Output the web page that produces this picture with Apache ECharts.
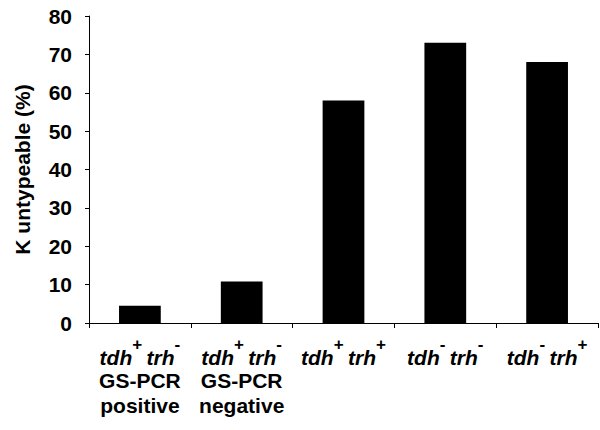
<!DOCTYPE html>
<html>
<head>
<meta charset="utf-8">
<script src="https://cdn.jsdelivr.net/npm/echarts@6/dist/echarts.min.js"></script>
<style>
  html, body { margin: 0; padding: 0; background: #fff; }
  #chart { width: 600px; height: 430px; }
</style>
</head>
<body>
<div id="chart"></div>
<script>
// genotype pieces for each category: [tdh sign, trh sign]
var tdhSigns = ['+', '+', '+', '-', '-'];
var trhSigns = ['-', '-', '+', '-', '+'];
var extraLine1 = ['GS-PCR', 'GS-PCR', '', '', ''];
var extraLine2 = ['positive', 'negative', '', '', ''];
var untypeable = [4.5, 10.8, 58, 73, 68];
var yTicks = [0, 10, 20, 30, 40, 50, 60, 70, 80];

(function() {
  var font = '"Liberation Sans", Arial, sans-serif';
  var categories = tdhSigns.map(function(s, i) {
    var txt = '{i|tdh}{s|' + s + '}{sp| }{i|trh}{s|' + trhSigns[i] + '}';
    if (extraLine1[i]) txt += '\n{b|' + extraLine1[i] + '}';
    if (extraLine2[i]) txt += '\n{b|' + extraLine2[i] + '}';
    return txt;
  });

  var chart = echarts.init(document.getElementById('chart'), null, { renderer: 'svg' });
  chart.setOption({
    animation: false,
    backgroundColor: '#fff',
    grid: { left: 89, right: 2, top: 16, bottom: 107 },
    xAxis: {
      type: 'category',
      data: categories,
      axisLine: { lineStyle: { color: '#000', width: 1 } },
      axisTick: { show: true, length: 5, lineStyle: { color: '#000' } },
      axisLabel: {
        interval: 0,
        margin: 9,
        color: '#000',
        fontFamily: font,
        fontWeight: 'bold',
        fontSize: 21,
        formatter: function(v) { return v; },
        rich: {
          i: { fontFamily: font, fontWeight: 'bold', fontStyle: 'italic', fontSize: 21, lineHeight: 24,
               verticalAlign: 'bottom', color: '#000' },
          sp: { fontFamily: font, fontSize: 16, lineHeight: 36, verticalAlign: 'bottom', color: '#000' },
          s: { fontFamily: font, fontWeight: 'bold', fontSize: 17, lineHeight: 17,
               padding: [4, 0, 0, 0], verticalAlign: 'top', color: '#000' },
          b: { fontFamily: font, fontWeight: 'bold', fontSize: 21, lineHeight: 25, color: '#000' }
        }
      }
    },
    yAxis: {
      type: 'value',
      min: yTicks[0],
      max: yTicks[yTicks.length - 1],
      interval: 10,
      name: 'K untypeable (%)',
      nameLocation: 'middle',
      nameGap: 56,
      nameTextStyle: { color: '#000', fontFamily: font, fontWeight: 'bold', fontSize: 21 },
      axisLine: { show: true, lineStyle: { color: '#000', width: 1 } },
      axisTick: { show: true, length: 4, lineStyle: { color: '#000' } },
      axisLabel: { color: '#000', fontFamily: font, fontWeight: 'bold', fontSize: 21, margin: 17 },
      splitLine: { show: false }
    },
    series: [{
      type: 'bar',
      data: untypeable,
      barWidth: '41%',
      itemStyle: { color: '#000' }
    }]
  });
})();
</script>
</body>
</html>
